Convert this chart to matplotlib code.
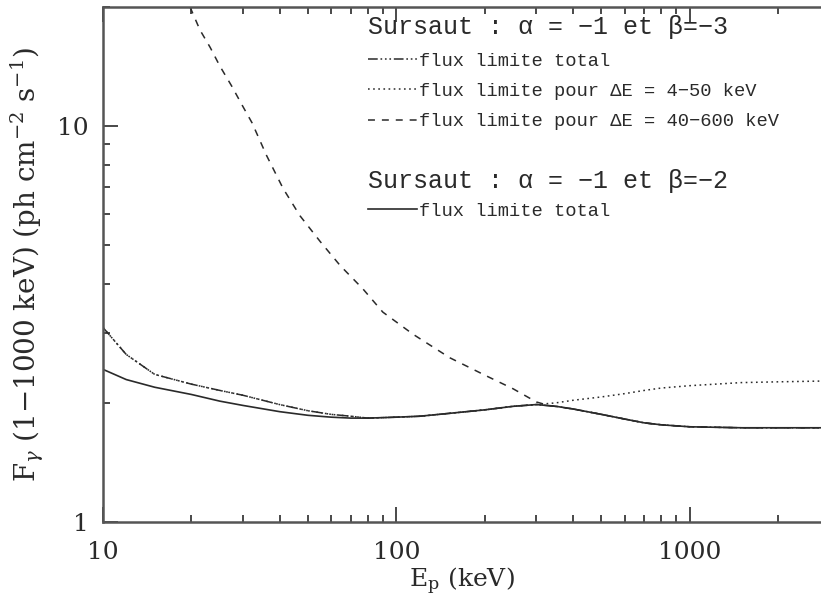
import numpy as np
import matplotlib
matplotlib.use('Agg')
import matplotlib.pyplot as plt
from matplotlib.ticker import NullFormatter, LogLocator

plt.rcParams['font.family'] = ['DejaVu Serif']
plt.rcParams['mathtext.fontset'] = 'dejavuserif'
plt.rcParams['lines.scale_dashes'] = False

# energie pic (keV)
e_tot = [10, 12, 15, 20, 25, 30, 40, 50, 60, 70, 80, 100, 120, 150, 200, 250,
         300, 350, 400, 500, 600, 700, 800, 1000, 1500, 2000, 2800]
# beta = -2, flux limite total
f_b2 = [2.43, 2.29, 2.19, 2.10, 2.02, 1.97, 1.90, 1.86, 1.84, 1.83, 1.83, 1.84, 1.85,
        1.88, 1.92, 1.96, 1.98, 1.96, 1.93, 1.87, 1.82, 1.78, 1.76, 1.74, 1.73, 1.73, 1.73]
# beta = -3, flux limite total
f_b3 = [3.10, 2.65, 2.36, 2.23, 2.15, 2.09, 1.98, 1.91, 1.87, 1.85, 1.83, 1.84, 1.85,
        1.88, 1.92, 1.96, 1.98, 1.96, 1.93, 1.87, 1.82, 1.78, 1.76, 1.74, 1.73, 1.73, 1.73]
# beta = -3, 4-50 keV
f_low = [3.10, 2.65, 2.36, 2.23, 2.15, 2.09, 1.98, 1.91, 1.87, 1.85, 1.83, 1.84, 1.85,
         1.88, 1.92, 1.96, 1.98, 2.00, 2.03, 2.07, 2.11, 2.15, 2.18, 2.21, 2.25, 2.26, 2.27]
# beta = -3, 40-600 keV
e_high = [19.8, 21.4, 23.2, 25, 27.5, 29.8, 32.2, 36.1, 41.1, 46.9, 55, 64.4, 76.9,
          89.9, 114, 152, 200, 250, 300, 330, 400, 500, 600, 700, 800, 1000, 1500,
          2000, 2800]
f_high = [20.0, 17.5, 15.8, 14.2, 12.6, 11.3, 10.2, 8.43, 6.96, 5.94, 5.11, 4.44, 3.88,
          3.39, 2.98, 2.60, 2.35, 2.17, 2.01, 1.97, 1.93, 1.87, 1.82, 1.78, 1.76, 1.74,
          1.73, 1.73, 1.73]

col = '#2a2a2a'
mono = ['Liberation Mono', 'DejaVu Sans Mono']

fig = plt.figure(figsize=(8.21, 6.03), dpi=100)
ax = fig.add_axes([103/821, (603-522)/603, (821-103)/821, (522-7)/603])

l1, = ax.plot(e_tot, f_b3, color=col, lw=1.1, dashes=(7, 2, 1.2, 2, 1.2, 2, 1.2, 2))
l2, = ax.plot(e_tot, f_low, color=col, lw=1.1, dashes=(1.2, 2.5))
l3, = ax.plot(e_high, f_high, color=col, lw=1.1, dashes=(5, 5))
l4, = ax.plot(e_tot, f_b2, color=col, lw=1.2)

ax.set_xscale('log')
ax.set_yscale('log')
ax.set_xlim(10, 2800)
ax.set_ylim(1, 20)

ax.set_xticks([10, 100, 1000], ['10', '100', '1000'])
ax.set_yticks([1, 10], ['1', '10'])
ax.xaxis.set_minor_locator(LogLocator(subs=np.arange(2, 10)))
ax.yaxis.set_minor_locator(LogLocator(subs=np.arange(2, 10)))
ax.xaxis.set_minor_formatter(NullFormatter())
ax.yaxis.set_minor_formatter(NullFormatter())
ax.tick_params(which='both', direction='in', top=True, right=False, colors=col,
               labelsize=18, width=1.2)
ax.tick_params(axis='x', which='major', length=11, pad=14)
ax.tick_params(axis='y', which='major', length=11, pad=10)
ax.tick_params(which='minor', length=5)
ax.spines['right'].set_visible(False)
for s in ['left', 'bottom', 'top']:
    ax.spines[s].set_linewidth(1.8)
    ax.spines[s].set_color('#555555')

ax.set_xlabel(r'E$_{\rm p}$ (keV)', fontsize=18, color=col, labelpad=1)
ax.set_ylabel(r'F$_{\gamma}$ (1$-$1000 keV) (ph cm$^{-2}$ s$^{-1}$)', fontsize=20,
              color=col, labelpad=8)

leg1 = ax.legend([l1, l2, l3],
                 ['flux limite total',
                  'flux limite pour ΔE = 4−50 keV',
                  'flux limite pour ΔE = 40−600 keV'],
                 title='Sursaut : α = −1 et β=−3',
                 loc='upper left', bbox_to_anchor=(0.369, 0.985),
                 frameon=False, prop={'family': mono, 'size': 13.5},
                 title_fontproperties={'family': mono, 'size': 18}, alignment='left',
                 handlelength=2.6, handletextpad=0.1, borderpad=0, borderaxespad=0,
                 labelspacing=0.7)
for t in leg1.get_texts():
    t.set_color(col)
leg1.get_title().set_color(col)
leg1._legend_box.sep = 10
ax.add_artist(leg1)

leg2 = ax.legend([l4], ['flux limite total'],
                 title='Sursaut : α = −1 et β=−2',
                 loc='upper left', bbox_to_anchor=(0.369, 0.685),
                 frameon=False, prop={'family': mono, 'size': 13.5},
                 title_fontproperties={'family': mono, 'size': 18}, alignment='left',
                 handlelength=2.6, handletextpad=0.1, borderpad=0, borderaxespad=0)
for t in leg2.get_texts():
    t.set_color(col)
leg2.get_title().set_color(col)

fig.savefig('out.png', dpi=100)
